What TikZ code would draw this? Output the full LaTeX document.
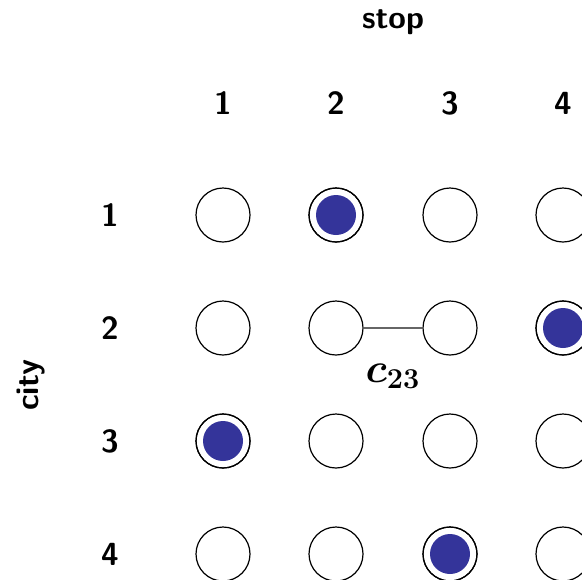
\documentclass[tikz,border=0pt]{standalone}
\usepackage{amsmath}
\begin{document}
\begin{tikzpicture}[x=0.5pt,y=-0.5pt,
  lbl/.style={font=\fontsize{16}{19}\selectfont\sffamily\bfseries, inner sep=0pt},
  mathlbl/.style={font=\fontsize{20}{24}\selectfont\boldmath, inner sep=0pt},
  cell/.style={circle, draw=black, line width=0.6pt, minimum size=27pt, inner sep=0pt},
  chosen/.style={cell, path picture={\fill[tourblue] (path picture bounding box.center) circle (10pt);}},
  link/.style={draw=black!60, line width=0.8pt}]
\definecolor{tourblue}{RGB}{52,52,154}
\useasboundingbox (0,0) rectangle (582,579);

% axis titles
\node[lbl] (stop) at (393,22) {stop};
\node[lbl, rotate=90] (city) at (31,385) {city};

% column and row numbers
\foreach \j/\xx in {1/223,2/336,3/450,4/563}
  \node[lbl] (col\j) at (\xx,103) {\j};
\foreach \i/\yy in {1/215,2/328,3/441,4/554}
  \node[lbl] (row\i) at (110,\yy) {\i};

% grid of city/stop cells; filled cells mark the tour
\foreach \i/\yy in {1/215,2/328,3/441,4/554}
  \foreach \j/\xx in {1/223,2/336,3/450,4/563}
    \node[cell] (n\i\j) at (\xx,\yy) {};
\foreach \i/\j in {1/2,2/4,3/1,4/3}
  \node[chosen] at (n\i\j) {};

% coupling between two cells
\draw[link] (n22) -- (n23);
\node[mathlbl] (cost) at (393,376) {$c_{\mathbf{23}}$};
\end{tikzpicture}
\end{document}
